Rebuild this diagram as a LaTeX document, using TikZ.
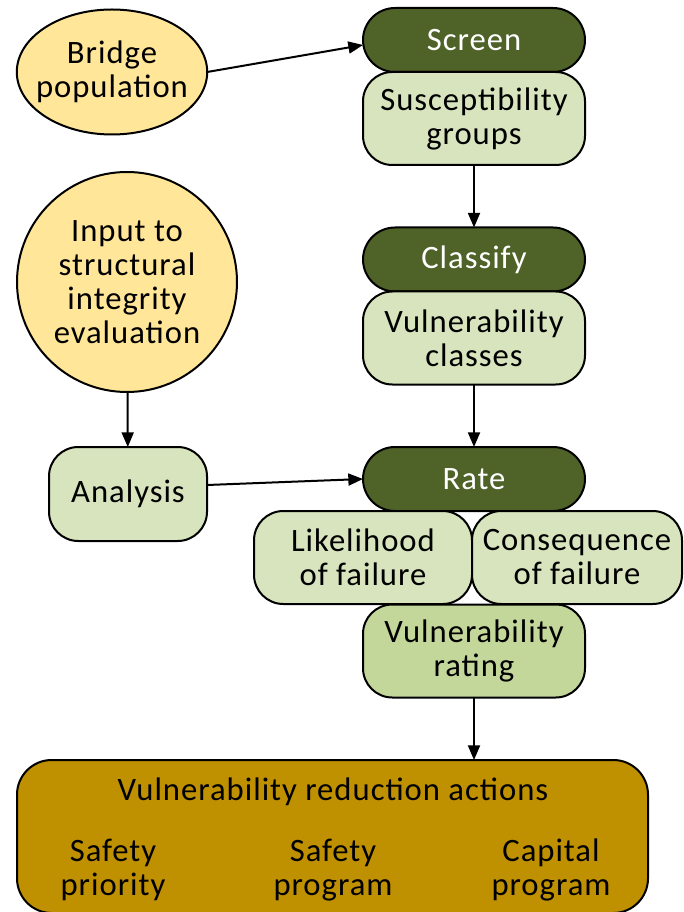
\documentclass[tikz,border=0pt]{standalone}
\usepackage{fontspec}
\setmainfont{Carlito}[LetterSpace=3]
\usetikzlibrary{positioning,arrows.meta,shapes.geometric}

\definecolor{headgreen}{HTML}{4F6228}
\definecolor{bodygreen}{HTML}{D7E4BD}
\definecolor{rategreen}{HTML}{C4D79B}
\definecolor{sand}{HTML}{FFE699}
\definecolor{ochre}{HTML}{BF9000}

\begin{document}
\begin{tikzpicture}[
    x=0.75pt, y=-0.75pt,
    every node/.style={font=\fontsize{24.5}{25.5}\selectfont, outer sep=0pt},
    head/.style={rectangle, draw, line width=1.5pt, fill=headgreen, text=white, rounded corners=24pt, minimum width=166.5pt, minimum height=48pt},
    body/.style={rectangle, draw, line width=1.5pt, fill=bodygreen, rounded corners=22pt, minimum width=166.5pt, minimum height=69.75pt, align=center},
    source/.style={draw, line width=1.5pt, fill=sand, align=center, inner sep=0pt},
    arrow/.style={-{Triangle[length=11pt, width=9pt]}, line width=1.5pt}
]
    \useasboundingbox (0,0) rectangle (683,912);

    % inputs
    \node[source, ellipse, inner xsep=-6.5pt, minimum width=142.5pt, minimum height=93.75pt] (bridge) at (112,72) {Bridge\\population};
    \node[source, circle, minimum size=165pt] (input) at (127,282) {Input to\\structural\\integrity\\evaluation};
    \node[body, minimum width=118.5pt, minimum height=70.5pt] (analysis) at (128,494) {Analysis};

    % screen / classify / rate
    \node[head] (screen) at (474,40) {Screen};
    \node[body, below=0pt of screen] (groups) {Susceptibility\\groups};
    \node[head] (classify) at (474,259.5) {Classify};
    \node[body, below=0pt of classify] (classes) {Vulnerability\\classes};
    \node[head] (rate) at (474,479) {Rate};
    \node[body, minimum width=163.5pt] (likelihood) at (363,557.5) {Likelihood\\of failure};
    \node[body, minimum width=157.5pt] (consequence) at (577,557.5) {Consequence\\of failure};
    \node[body, fill=rategreen] (rating) at (474,651) {Vulnerability\\rating};

    % actions
    \node[rectangle, draw, line width=1.5pt, fill=ochre, rounded corners=26pt, minimum width=473.25pt, minimum height=114.75pt] (actions) at (332.5,836.5) {};
    \node (title) at (333,792) {Vulnerability reduction actions};
    \node[align=center] (priority) at (113,870) {Safety\\priority};
    \node[align=center] (program) at (333,870) {Safety\\program};
    \node[align=center] (capital) at (551,870) {Capital\\program};

    \draw[arrow] (bridge.east) -- ([yshift=-3.75pt]screen.west);
    \draw[arrow] (groups) -- (classify);
    \draw[arrow] (classes) -- (rate);
    \draw[arrow] (input) -- (analysis);
    \draw[arrow] ([yshift=6.75pt]analysis.east) -- (rate.west);
    \draw[arrow] (rating.south) -- (rating.south |- actions.north);
\end{tikzpicture}
\end{document}
